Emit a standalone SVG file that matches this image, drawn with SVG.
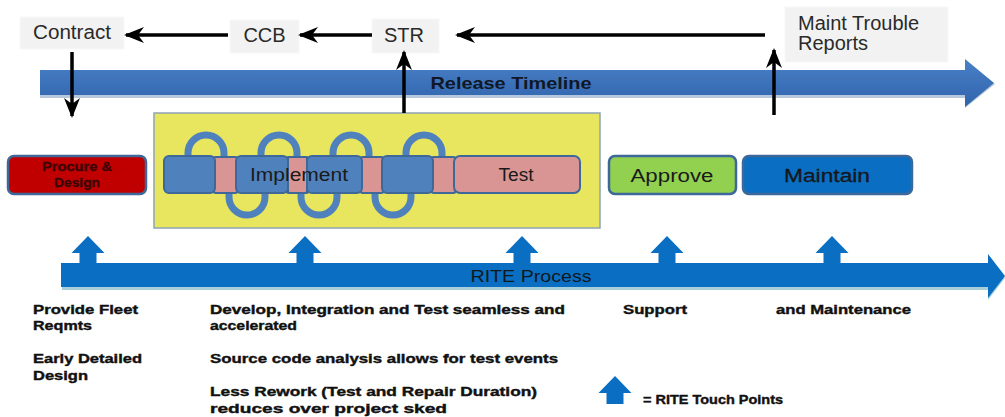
<svg xmlns="http://www.w3.org/2000/svg" width="1005" height="417" viewBox="0 0 1005 417">
  <defs>
    <style>
      .lbl { font-family: "Liberation Sans", Arial, sans-serif; fill: #2a2a2a; font-size: 20px; }
      .box { fill: #f2f2f2; stroke: #f8f8f8; stroke-width: 1; }
      .con { stroke: #000; stroke-width: 3.5; fill: none; }
      .stage { stroke: #3d6899; stroke-width: 2.5; }
      .seg-b { fill: #4f81bd; stroke: #3d6899; stroke-width: 2; }
      .seg-p { fill: #d99594; stroke: #3d6899; stroke-width: 2; }
      .loop { fill: none; stroke: #4f81bd; stroke-width: 7; }
      .inner { font-family: "Liberation Sans", Arial, sans-serif; font-size: 18px; fill: #1a1a1a; }
      .note { font-family: "Liberation Sans", Arial, sans-serif; font-size: 13px; font-weight: bold; fill: #111; stroke: #111; stroke-width: 0.4; }
      .touch { fill: #0a6fc2; }
    </style>
    <marker id="ah" viewBox="0 0 20 16" refX="18" refY="8" markerWidth="20" markerHeight="16" markerUnits="userSpaceOnUse" orient="auto">
      <path d="M0,0 L20,8 L0,16 L6,8 Z" fill="#000"/>
    </marker>
    <linearGradient id="relg" x1="0" y1="0" x2="0" y2="1">
      <stop offset="0" stop-color="#4a80c6"/>
      <stop offset="1" stop-color="#2f64ad"/>
    </linearGradient>
    <path id="tp" d="M0,0 L16.5,17 L8.5,17 L8.5,28 L-8.5,28 L-8.5,17 L-16.5,17 Z"/>
  </defs>

  <rect width="1005" height="417" fill="#fff"/>

  <!-- Release timeline -->
  <g id="release-timeline">
    <path d="M40,72 L965,72 L965,61 L995,84 L965,108 L965,98 L40,98 Z" fill="#b7c8dc"/>
    <path d="M40,70 L965,70 L965,59 L994,83 L965,107 L965,95 L40,95 Z" fill="url(#relg)"/>
    <text x="511" y="89" text-anchor="middle" font-family="Liberation Sans, Arial, sans-serif" font-size="17" font-weight="bold" fill="#101828" textLength="161" lengthAdjust="spacingAndGlyphs">Release Timeline</text>
  </g>

  <!-- RITE process -->
  <g id="rite-process">
    <path d="M62,266 L988,266 L988,257 L1005,278 L988,300 L988,290 L62,290 Z" fill="#a8cfd8"/>
    <path d="M61,263 L988,263 L988,254 L1005,276 L988,298 L988,287 L61,287 Z" fill="#0a6fc2"/>
    <text x="531" y="282" text-anchor="middle" font-family="Liberation Sans, Arial, sans-serif" font-size="17" fill="#101820" textLength="121" lengthAdjust="spacingAndGlyphs">RITE Process</text>
  </g>

  <!-- Top boxes -->
  <g id="contract">
    <rect class="box" x="20" y="17" width="104" height="32"/>
    <text class="lbl" x="33" y="39" textLength="78" lengthAdjust="spacingAndGlyphs">Contract</text>
  </g>
  <g id="ccb">
    <rect class="box" x="230" y="20" width="69" height="33"/>
    <text class="lbl" x="264.5" y="42" text-anchor="middle">CCB</text>
  </g>
  <g id="str">
    <rect class="box" x="372" y="19" width="67" height="34"/>
    <text class="lbl" x="404" y="42" text-anchor="middle">STR</text>
  </g>
  <g id="maint-trouble-reports">
    <rect class="box" x="785" y="7" width="163" height="55"/>
    <text class="lbl" x="798" y="30">Maint Trouble</text>
    <text class="lbl" x="798" y="50">Reports</text>
  </g>

  <!-- Stage boxes -->
  <g id="procure-design">
    <rect class="stage" x="8" y="156" width="138" height="38" rx="6" fill="#c00000"/>
    <text x="77" y="171" text-anchor="middle" font-family="Liberation Sans, Arial, sans-serif" font-size="12" font-weight="bold" fill="#3a0505" stroke="#3a0505" stroke-width="0.3" textLength="70" lengthAdjust="spacingAndGlyphs">Procure &amp;</text>
    <text x="77" y="187" text-anchor="middle" font-family="Liberation Sans, Arial, sans-serif" font-size="12" font-weight="bold" fill="#3a0505" stroke="#3a0505" stroke-width="0.3" textLength="46" lengthAdjust="spacingAndGlyphs">Design</text>
  </g>

  <g id="implement-test">
    <rect x="154" y="113" width="446" height="115" fill="#e8e55f" stroke="#8fa3b5" stroke-width="1.5"/>
    <g id="loops">
      <path class="loop" d="M188,162 L188,153 A18,18 0 0 1 224,153 L224,162"/>
      <path class="loop" d="M261,162 L261,153 A18,18 0 0 1 297,153 L297,162"/>
      <path class="loop" d="M333,162 L333,153 A18,18 0 0 1 369,153 L369,162"/>
      <path class="loop" d="M406,162 L406,153 A18,18 0 0 1 442,153 L442,162"/>
      <path class="loop" d="M229,188 L229,197 A18,18 0 0 0 265,197 L265,188"/>
      <path class="loop" d="M301,188 L301,197 A18,18 0 0 0 337,197 L337,188"/>
      <path class="loop" d="M375,188 L375,197 A18,18 0 0 0 411,197 L411,188"/>
    </g>
    <rect class="seg-p" x="213" y="157" width="25" height="36" rx="3"/>
    <rect class="seg-p" x="286" y="157" width="23" height="36" rx="3"/>
    <rect class="seg-p" x="360" y="157" width="24" height="36" rx="3"/>
    <rect class="seg-p" x="431" y="157" width="25" height="36" rx="3"/>
    <rect class="seg-b" x="164" y="156" width="51" height="37" rx="5"/>
    <rect class="seg-b" x="236" y="156" width="52" height="37" rx="5"/>
    <rect class="seg-p" x="288" y="157" width="19" height="36" rx="2"/>
    <rect class="seg-b" x="307" y="156" width="55" height="37" rx="5"/>
    <rect class="seg-b" x="382" y="156" width="51" height="37" rx="5"/>
    <rect class="seg-p" x="454" y="156" width="126" height="37" rx="6"/>
    <text class="inner" x="299" y="181" text-anchor="middle" textLength="98" lengthAdjust="spacingAndGlyphs">Implement</text>
    <text class="inner" x="516" y="181" text-anchor="middle" textLength="35" lengthAdjust="spacingAndGlyphs">Test</text>
  </g>

  <g id="approve">
    <rect class="stage" x="609" y="156" width="127" height="38" rx="6" fill="#92d050"/>
    <text class="inner" x="672" y="182" text-anchor="middle" font-size="19" textLength="83" lengthAdjust="spacingAndGlyphs">Approve</text>
  </g>
  <g id="maintain">
    <rect class="stage" x="743" y="156" width="169" height="38" rx="6" fill="#0a6fc2"/>
    <text class="inner" x="827" y="182" text-anchor="middle" font-size="19" fill="#0a1020" stroke="#0a1020" stroke-width="0.3" textLength="86" lengthAdjust="spacingAndGlyphs">Maintain</text>
  </g>

  <!-- Connectors -->
  <g id="connectors">
    <line class="con" x1="228" y1="35" x2="126" y2="35" marker-end="url(#ah)"/>
    <line class="con" x1="372" y1="35" x2="300" y2="35" marker-end="url(#ah)"/>
    <line class="con" x1="765" y1="35" x2="457" y2="35" marker-end="url(#ah)"/>
    <line class="con" x1="72" y1="52" x2="72" y2="116" marker-end="url(#ah)"/>
    <line class="con" x1="404" y1="113" x2="404" y2="52" marker-end="url(#ah)"/>
    <line class="con" x1="774" y1="115" x2="774" y2="50" marker-end="url(#ah)"/>
  </g>

  <!-- RITE touch points -->
  <g id="touch-points">
    <use href="#tp" class="touch" x="88" y="236"/>
    <use href="#tp" class="touch" x="305" y="236"/>
    <use href="#tp" class="touch" x="522" y="236"/>
    <use href="#tp" class="touch" x="667" y="236"/>
    <use href="#tp" class="touch" x="832" y="236"/>
  </g>

  <!-- Notes -->
  <g id="notes">
    <text class="note" x="33" y="314" textLength="105" lengthAdjust="spacingAndGlyphs">Provide Fleet</text>
    <text class="note" x="33" y="330" textLength="59" lengthAdjust="spacingAndGlyphs">Reqmts</text>
    <text class="note" x="33" y="363" textLength="109" lengthAdjust="spacingAndGlyphs">Early Detailed</text>
    <text class="note" x="33" y="380" textLength="55" lengthAdjust="spacingAndGlyphs">Design</text>
    <text class="note" x="210" y="314" textLength="355" lengthAdjust="spacingAndGlyphs">Develop, Integration  and Test seamless  and</text>
    <text class="note" x="210" y="330" textLength="87" lengthAdjust="spacingAndGlyphs">accelerated</text>
    <text class="note" x="210" y="363" textLength="348" lengthAdjust="spacingAndGlyphs">Source code analysis allows for test events</text>
    <text class="note" x="210" y="396" textLength="327" lengthAdjust="spacingAndGlyphs">Less Rework (Test and Repair Duration)</text>
    <text class="note" x="210" y="413" textLength="237" lengthAdjust="spacingAndGlyphs">reduces over project sked</text>
    <text class="note" x="623" y="314" textLength="64" lengthAdjust="spacingAndGlyphs">Support</text>
    <text class="note" x="776" y="314" textLength="135" lengthAdjust="spacingAndGlyphs">and Maintenance</text>
  </g>

  <g id="legend">
    <use href="#tp" class="touch" x="615" y="376"/>
    <text class="note" x="643" y="404" textLength="140" lengthAdjust="spacingAndGlyphs">=  RITE Touch Points</text>
  </g>
</svg>
